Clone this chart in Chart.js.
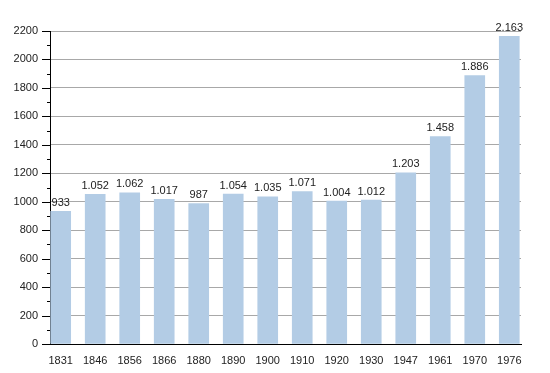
<!DOCTYPE html>
<html>
<head>
<meta charset="utf-8">
<script src="https://cdn.jsdelivr.net/npm/chart.js@4"></script>
<style>
  html, body { margin: 0; padding: 0; background: #fff; }
  #wrap { width: 550px; height: 373px; }
</style>
</head>
<body>
<div id="wrap"><canvas id="popChart"></canvas></div>
<script>
// --- data ---
const years = ['1831', '1846', '1856', '1866', '1880', '1890', '1900', '1910', '1920', '1930', '1947', '1961', '1970', '1976'];
const population = [933, 1052, 1062, 1017, 987, 1054, 1035, 1071, 1004, 1012, 1203, 1458, 1886, 2163];
const yTicks = [0, 200, 400, 600, 800, 1000, 1200, 1400, 1600, 1800, 2000, 2200];

const FONT = '"Liberation Sans", Arial, sans-serif';

// value labels on top of bars, dot as thousands separator
const fmt = v => v >= 1000 ? Math.floor(v / 1000) + '.' + String(v % 1000).padStart(3, '0') : String(v);

const valueLabels = {
    id: 'valueLabels',
    afterDatasetsDraw(chart) {
        const ctx = chart.ctx;
        const meta = chart.getDatasetMeta(0);
        ctx.save();
        ctx.font = '11px ' + FONT;
        ctx.fillStyle = '#222';
        ctx.textAlign = 'center';
        ctx.textBaseline = 'bottom';
        meta.data.forEach((bar, i) => {
            ctx.fillText(fmt(population[i]), bar.x, bar.y - 3);
        });
        ctx.restore();
    }
};

// small tick marks left of the y axis (long on labelled, short on minor)
const yTickMarks = {
    id: 'yTickMarks',
    afterDraw(chart) {
        const ctx = chart.ctx;
        const y = chart.scales.y;
        const left = chart.chartArea.left;
        ctx.save();
        ctx.strokeStyle = '#000';
        ctx.lineWidth = 1;
        for (let v = 0; v <= 2200; v += 100) {
            const py = Math.round(y.getPixelForValue(v)) + 0.5;
            const len = v % 200 === 0 ? 8 : 3;
            ctx.beginPath();
            ctx.moveTo(left - len, py);
            ctx.lineTo(left, py);
            ctx.stroke();
        }
        ctx.restore();
    }
};

new Chart(document.getElementById('popChart'), {
    type: 'bar',
    data: {
        datasets: [{
            data: population.map((v, i) => ({ x: i, y: v })),
            backgroundColor: '#b3cce5',
            barThickness: 20
        }]
    },
    options: {
        responsive: true,
        maintainAspectRatio: false,
        animation: false,
        layout: { padding: { top: 31, right: 29, left: 0, bottom: 0 } },
        plugins: { legend: { display: false }, tooltip: { enabled: false } },
        scales: {
            x: {
                type: 'linear',
                offset: false,
                bounds: 'ticks',
                min: -0.31,
                max: 13.34,
                grid: { display: false },
                border: { color: '#000', width: 1 },
                afterBuildTicks: s => { s.ticks = years.map((y, i) => ({ value: i })); },
                ticks: {
                    autoSkip: false,
                    maxRotation: 0,
                    padding: 2,
                    color: '#222',
                    font: { family: FONT, size: 11 },
                    callback: v => years[v]
                },
                afterFit: s => { s.height = 29; }
            },
            y: {
                min: 0,
                max: 2200,
                grid: {
                    drawTicks: false,
                    color: ctx => ctx.tick && ctx.tick.value % 200 === 0 ? '#a8a8a8' : '#e4e4e4'
                },
                border: { color: '#000', width: 1 },
                ticks: {
                    stepSize: 100,
                    padding: 12,
                    color: '#222',
                    font: { family: FONT, size: 11 },
                    callback: v => yTicks.includes(v) ? String(v) : ''
                },
                afterFit: s => { s.width = 50; }
            }
        }
    },
    plugins: [valueLabels, yTickMarks]
});
</script>
</body>
</html>
